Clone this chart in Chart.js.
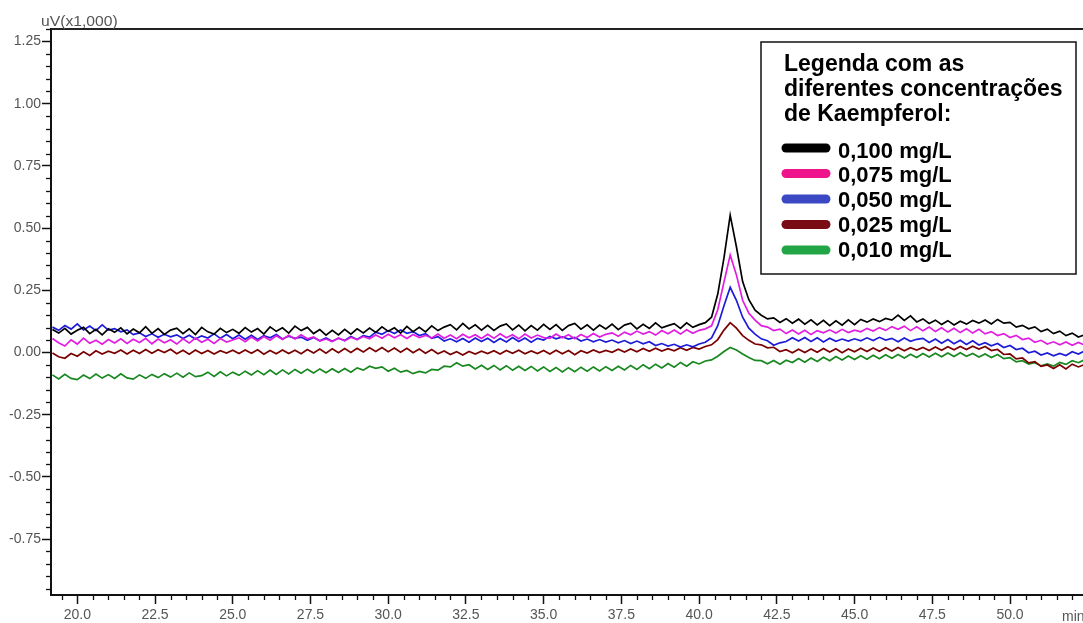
<!DOCTYPE html>
<html>
<head>
<meta charset="utf-8">
<script src="https://cdn.jsdelivr.net/npm/chart.js@4.4.0/dist/chart.umd.min.js"></script>
<style>
  html, body { margin: 0; padding: 0; background: #fff; }
  canvas { display: block; }
</style>
</head>
<body>
<canvas id="chromChart" width="1083" height="623"></canvas>
<script>
// sampling grid of the traces, minutes (every 0.2 min from 19.2 to 52.4)
const times = Array.from({ length: 167 }, (_, i) => +(19.2 + 0.2 * i).toFixed(1));

const seriesLabels = ['0,100 mg/L', '0,075 mg/L', '0,050 mg/L', '0,025 mg/L', '0,010 mg/L'];
const lineColors = ['#000000', '#e21de2', '#1c1cd8', '#7a0000', '#17871f'];
const swatchColors = ['#000000', '#f0148c', '#3a48c4', '#7a0a14', '#22a645'];
const legendTitle = ['Legenda com as', 'diferentes concentrações', 'de Kaempferol:'];

// values in uV x 1,000, one row = 2 minutes
const conc100 = [
  0.092, 0.078, 0.097, 0.074, 0.089, 0.101, 0.076, 0.093, 0.071, 0.095,
  0.081, 0.099, 0.075, 0.094, 0.079, 0.104, 0.077, 0.096, 0.073, 0.090,
  0.098, 0.076, 0.095, 0.072, 0.101, 0.083, 0.074, 0.097, 0.080, 0.093,
  0.077, 0.100, 0.082, 0.096, 0.074, 0.103, 0.085, 0.099, 0.078, 0.106,
  0.088, 0.101, 0.076, 0.092, 0.070, 0.089, 0.071, 0.093, 0.074, 0.095,
  0.079, 0.098, 0.081, 0.103, 0.085, 0.099, 0.078, 0.105, 0.084, 0.101,
  0.083, 0.107, 0.088, 0.102, 0.112, 0.091, 0.117, 0.095, 0.111, 0.090,
  0.109, 0.089, 0.106, 0.115, 0.091, 0.110, 0.087, 0.108, 0.090, 0.113,
  0.093, 0.112, 0.089, 0.108, 0.117, 0.094, 0.111, 0.090, 0.110, 0.095,
  0.114, 0.092, 0.110, 0.118, 0.095, 0.113, 0.097, 0.119, 0.099, 0.108,
  0.116, 0.097, 0.119, 0.101, 0.112, 0.120, 0.142, 0.235, 0.380, 0.552,
  0.425, 0.285, 0.212, 0.170, 0.150, 0.135, 0.139, 0.121, 0.136, 0.118,
  0.134, 0.114, 0.131, 0.111, 0.129, 0.108, 0.127, 0.110, 0.131, 0.112,
  0.133, 0.122, 0.135, 0.124, 0.137, 0.130, 0.150, 0.129, 0.147, 0.123,
  0.135, 0.117, 0.130, 0.113, 0.128, 0.111, 0.126, 0.114, 0.129, 0.118,
  0.131, 0.115, 0.133, 0.118, 0.121, 0.102, 0.109, 0.095, 0.103, 0.084,
  0.094, 0.076, 0.086, 0.068, 0.078, 0.062, 0.071
];
const conc075 = [
  0.056, 0.039, 0.026, 0.051, 0.034, 0.058, 0.037, 0.049, 0.033, 0.052,
  0.038, 0.055, 0.036, 0.053, 0.040, 0.057, 0.035, 0.054, 0.039, 0.051,
  0.034, 0.055, 0.038, 0.058, 0.041, 0.053, 0.036, 0.056, 0.042, 0.050,
  0.059, 0.043, 0.062, 0.046, 0.064, 0.049, 0.067, 0.052, 0.069, 0.054,
  0.071, 0.055, 0.063, 0.046, 0.054, 0.044, 0.058, 0.047, 0.061, 0.052,
  0.064, 0.055, 0.070, 0.057, 0.073, 0.059, 0.071, 0.056, 0.072, 0.060,
  0.069, 0.058, 0.074, 0.057, 0.070, 0.055, 0.073, 0.059, 0.071, 0.056,
  0.073, 0.057, 0.075, 0.059, 0.071, 0.055, 0.074, 0.058, 0.070, 0.060,
  0.057, 0.074, 0.059, 0.071, 0.055, 0.072, 0.060, 0.076, 0.062, 0.073,
  0.079, 0.065, 0.082, 0.071, 0.086, 0.074, 0.084, 0.070, 0.088, 0.075,
  0.090, 0.074, 0.091, 0.077, 0.089, 0.095, 0.107, 0.172, 0.283, 0.392,
  0.312, 0.210, 0.158, 0.130, 0.108, 0.102, 0.088, 0.094, 0.076, 0.090,
  0.074, 0.089, 0.072, 0.088, 0.079, 0.091, 0.078, 0.093, 0.080, 0.090,
  0.083, 0.097, 0.086, 0.100, 0.089, 0.104, 0.093, 0.106, 0.088, 0.103,
  0.087, 0.102, 0.084, 0.099, 0.082, 0.097, 0.080, 0.095, 0.078, 0.093,
  0.075, 0.084, 0.068, 0.076, 0.060, 0.069, 0.052, 0.058, 0.041, 0.049,
  0.034, 0.043, 0.031, 0.042, 0.029, 0.040, 0.030
];
const conc050 = [
  0.102, 0.089, 0.108, 0.094, 0.115, 0.091, 0.106, 0.088, 0.111, 0.090,
  0.096, 0.083, 0.091, 0.072, 0.079, 0.064, 0.075, 0.061, 0.073, 0.063,
  0.071, 0.056, 0.069, 0.054, 0.067, 0.058, 0.075, 0.057, 0.072, 0.055,
  0.070, 0.053, 0.069, 0.052, 0.068, 0.059, 0.072, 0.054, 0.066, 0.057,
  0.062, 0.049, 0.060, 0.047, 0.058, 0.045, 0.057, 0.048, 0.064, 0.052,
  0.068, 0.062, 0.082, 0.073, 0.088, 0.076, 0.091, 0.077, 0.084, 0.068,
  0.076, 0.057, 0.064, 0.046, 0.055, 0.043, 0.056, 0.041, 0.058, 0.044,
  0.057, 0.040, 0.056, 0.042, 0.060, 0.044, 0.058, 0.041, 0.057, 0.050,
  0.065, 0.055, 0.063, 0.054, 0.061, 0.046, 0.054, 0.043, 0.052, 0.042,
  0.050, 0.039, 0.048, 0.036, 0.046, 0.035, 0.043, 0.028, 0.036, 0.026,
  0.033, 0.022, 0.031, 0.023, 0.034, 0.041, 0.059, 0.108, 0.188, 0.262,
  0.210, 0.142, 0.098, 0.074, 0.055, 0.047, 0.029, 0.039, 0.044, 0.059,
  0.046, 0.060, 0.044, 0.059, 0.042, 0.057, 0.045, 0.054, 0.046, 0.055,
  0.047, 0.059, 0.048, 0.061, 0.050, 0.057, 0.043, 0.058, 0.045, 0.053,
  0.057, 0.040, 0.054, 0.037, 0.052, 0.035, 0.049, 0.032, 0.047, 0.030,
  0.039, 0.027, 0.036, 0.020, 0.028, 0.012, 0.017, -0.001, 0.005, -0.010,
  -0.002, -0.013, -0.004, -0.012, 0.003, -0.006, 0.006
];
const conc025 = [
  -0.002, -0.017, -0.023, -0.004, -0.015, 0.003, -0.012, 0.007, -0.006, 0.005,
  -0.003, 0.010, -0.006, 0.009, -0.004, 0.012, -0.003, 0.011, 0.000, 0.013,
  -0.005, 0.009, -0.007, 0.010, -0.004, 0.008, -0.006, 0.007, -0.002, 0.009,
  -0.004, 0.010, -0.003, 0.011, -0.007, 0.008, -0.005, 0.010, -0.004, 0.009,
  -0.005, 0.012, -0.002, 0.014, -0.003, 0.015, -0.001, 0.016, 0.000, 0.017,
  0.002, 0.019, 0.004, 0.020, 0.003, 0.018, 0.001, 0.017, -0.001, 0.014,
  -0.003, 0.012, -0.005, 0.006, -0.008, 0.003, -0.010, 0.004, -0.006, 0.005,
  -0.004, 0.007, -0.006, 0.008, -0.003, 0.009, -0.005, 0.006, -0.004, 0.008,
  -0.006, 0.009, -0.005, 0.008, -0.009, 0.007, -0.002, 0.010, 0.000, 0.008,
  0.001, 0.013, 0.002, 0.014, 0.003, 0.016, 0.005, 0.017, 0.006, 0.015,
  0.007, 0.019, 0.009, 0.020, 0.014, 0.024, 0.031, 0.052, 0.090, 0.120,
  0.098, 0.068, 0.049, 0.034, 0.031, 0.019, 0.021, 0.004, 0.011, -0.001,
  0.013, 0.000, 0.014, 0.001, 0.016, 0.002, 0.015, -0.001, 0.014, 0.003,
  0.017, 0.004, 0.018, 0.005, 0.019, 0.006, 0.020, 0.007, 0.019, 0.010,
  0.020, 0.008, 0.022, 0.009, 0.023, 0.011, 0.024, 0.012, 0.025, 0.014,
  0.024, 0.008, 0.012, -0.008, -0.006, -0.026, -0.022, -0.042, -0.037, -0.056,
  -0.050, -0.064, -0.049, -0.066, -0.047, -0.058, -0.048
];
const conc010 = [
  -0.090, -0.106, -0.088, -0.104, -0.109, -0.091, -0.105, -0.087, -0.103, -0.089,
  -0.104, -0.086, -0.102, -0.107, -0.090, -0.104, -0.088, -0.101, -0.085, -0.099,
  -0.083, -0.099, -0.082, -0.097, -0.093, -0.079, -0.096, -0.078, -0.094, -0.079,
  -0.092, -0.075, -0.090, -0.073, -0.089, -0.071, -0.088, -0.070, -0.086, -0.068,
  -0.083, -0.067, -0.082, -0.066, -0.081, -0.065, -0.080, -0.064, -0.079, -0.062,
  -0.071, -0.055, -0.064, -0.058, -0.075, -0.063, -0.079, -0.072, -0.085, -0.076,
  -0.082, -0.068, -0.071, -0.055, -0.058, -0.041, -0.055, -0.049, -0.066, -0.051,
  -0.068, -0.052, -0.070, -0.053, -0.071, -0.055, -0.072, -0.056, -0.074, -0.058,
  -0.076, -0.060, -0.078, -0.061, -0.077, -0.059, -0.075, -0.058, -0.074, -0.057,
  -0.072, -0.055, -0.070, -0.052, -0.068, -0.049, -0.065, -0.047, -0.062, -0.044,
  -0.059, -0.040, -0.055, -0.037, -0.046, -0.034, -0.030, -0.015, 0.004, 0.020,
  0.010, -0.006, -0.020, -0.032, -0.033, -0.045, -0.032, -0.047, -0.031, -0.040,
  -0.024, -0.039, -0.022, -0.036, -0.019, -0.033, -0.016, -0.030, -0.014, -0.028,
  -0.013, -0.027, -0.011, -0.025, -0.009, -0.023, -0.008, -0.022, -0.007, -0.020,
  -0.004, -0.018, -0.003, -0.017, -0.002, -0.016, -0.001, -0.015, -0.004, -0.018,
  -0.006, -0.020, -0.008, -0.025, -0.021, -0.038, -0.033, -0.047, -0.041, -0.054,
  -0.046, -0.055, -0.040, -0.048, -0.033, -0.041, -0.029
];

const allSeries = [conc100, conc075, conc050, conc025, conc010];

Chart.defaults.font.family = "'Liberation Sans', Arial, sans-serif";

// minor ticks, top frame line, axis captions
const decorPlugin = {
    id: 'decor',
    afterDraw(chart) {
        const { ctx, chartArea: a, scales: { x, y } } = chart;
        ctx.save();
        ctx.strokeStyle = '#111';
        ctx.lineWidth = 1.3;
        for (let k = Math.ceil(x.min * 2); k <= Math.floor(x.max * 2); k++) {
            if (k % 5 === 0) continue;
            const px = Math.round(x.getPixelForValue(k / 2)) + 0.5;
            ctx.beginPath();
            ctx.moveTo(px, a.bottom);
            ctx.lineTo(px, a.bottom + 5);
            ctx.stroke();
        }
        for (let k = Math.ceil(y.min * 20); k <= Math.floor(y.max * 20); k++) {
            if (k % 5 === 0) continue;
            const py = Math.round(y.getPixelForValue(k / 20)) + 0.5;
            ctx.beginPath();
            ctx.moveTo(a.left - 5, py);
            ctx.lineTo(a.left, py);
            ctx.stroke();
        }
        // top frame
        ctx.strokeStyle = '#222';
        ctx.lineWidth = 2;
        ctx.beginPath();
        ctx.moveTo(a.left, a.top);
        ctx.lineTo(a.right, a.top);
        ctx.stroke();

        ctx.fillStyle = '#555';
        ctx.font = "14px 'Liberation Sans', Arial, sans-serif";
        ctx.textBaseline = 'alphabetic';
        ctx.textAlign = 'left';
        ctx.save();
        ctx.translate(41, 26);
        ctx.scale(1.12, 1);
        ctx.fillText('uV(x1,000)', 0, 0);
        ctx.restore();
        ctx.fillText('min', 1062, 621);
        ctx.restore();
    }
};

// boxed legend in the upper right corner
const legendBoxPlugin = {
    id: 'legendBox',
    afterDatasetsDraw(chart) {
        const ctx = chart.ctx;
        ctx.save();
        ctx.fillStyle = '#fff';
        ctx.fillRect(761, 42, 315, 232);
        ctx.strokeStyle = '#111';
        ctx.lineWidth = 1.5;
        ctx.strokeRect(761, 42, 315, 232);

        ctx.fillStyle = '#000';
        ctx.font = "bold 23px 'Liberation Sans', Arial, sans-serif";
        ctx.textAlign = 'left';
        ctx.textBaseline = 'alphabetic';
        legendTitle.forEach((line, i) => ctx.fillText(line, 784, 71 + i * 25));

        ctx.font = "bold 22px 'Liberation Sans', Arial, sans-serif";
        chart.data.datasets.forEach((ds, i) => {
            const yy = 148 + i * 25.5;
            ctx.strokeStyle = ds.swatchColor;
            ctx.lineWidth = 9;
            ctx.lineCap = 'round';
            ctx.beginPath();
            ctx.moveTo(786, yy);
            ctx.lineTo(826, yy);
            ctx.stroke();
            ctx.fillStyle = '#000';
            ctx.fillText(ds.label, 838, 157.5 + i * 24.8);
        });
        ctx.restore();
    }
};

const ctx1 = document.getElementById('chromChart').getContext('2d');
const chromChart = new Chart(ctx1, {
    type: 'line',
    data: {
        datasets: allSeries.map((vals, i) => ({
            label: seriesLabels[i],
            data: vals.map((v, j) => ({ x: times[j], y: v })),
            borderColor: lineColors[i],
            swatchColor: swatchColors[i],
            borderWidth: 1.7,
            pointRadius: 0,
            tension: 0,
            fill: false
        }))
    },
    options: {
        responsive: false,
        animation: false,
        events: [],
        layout: {
            padding: { top: 29, left: 0, right: 0, bottom: 0 }
        },
        scales: {
            x: {
                type: 'linear',
                min: 19.154,
                max: 52.348,
                afterFit: (scale) => { scale.height = 28; },
                ticks: {
                    stepSize: 2.5,
                    includeBounds: false,
                    color: '#555',
                    font: { size: 14 },
                    padding: 3,
                    maxRotation: 0,
                    autoSkip: false,
                    callback: (v) => v <= 51 ? v.toFixed(1) : ''
                },
                grid: {
                    drawOnChartArea: false,
                    drawTicks: true,
                    tickLength: 9,
                    tickColor: '#111',
                    tickWidth: 1.5
                },
                border: { color: '#111', width: 2 }
            },
            y: {
                min: -0.975,
                max: 1.3006,
                afterFit: (scale) => { scale.width = 51; },
                ticks: {
                    stepSize: 0.25,
                    includeBounds: false,
                    color: '#555',
                    font: { size: 14 },
                    padding: 1,
                    callback: (v) => Math.abs(v) < 1e-9 ? '0.00' : v.toFixed(2)
                },
                grid: {
                    drawOnChartArea: false,
                    drawTicks: true,
                    tickLength: 9,
                    tickColor: '#111',
                    tickWidth: 1.5
                },
                border: { color: '#111', width: 2 }
            }
        },
        plugins: {
            legend: { display: false },
            tooltip: { enabled: false }
        }
    },
    plugins: [decorPlugin, legendBoxPlugin]
});
</script>
</body>
</html>
